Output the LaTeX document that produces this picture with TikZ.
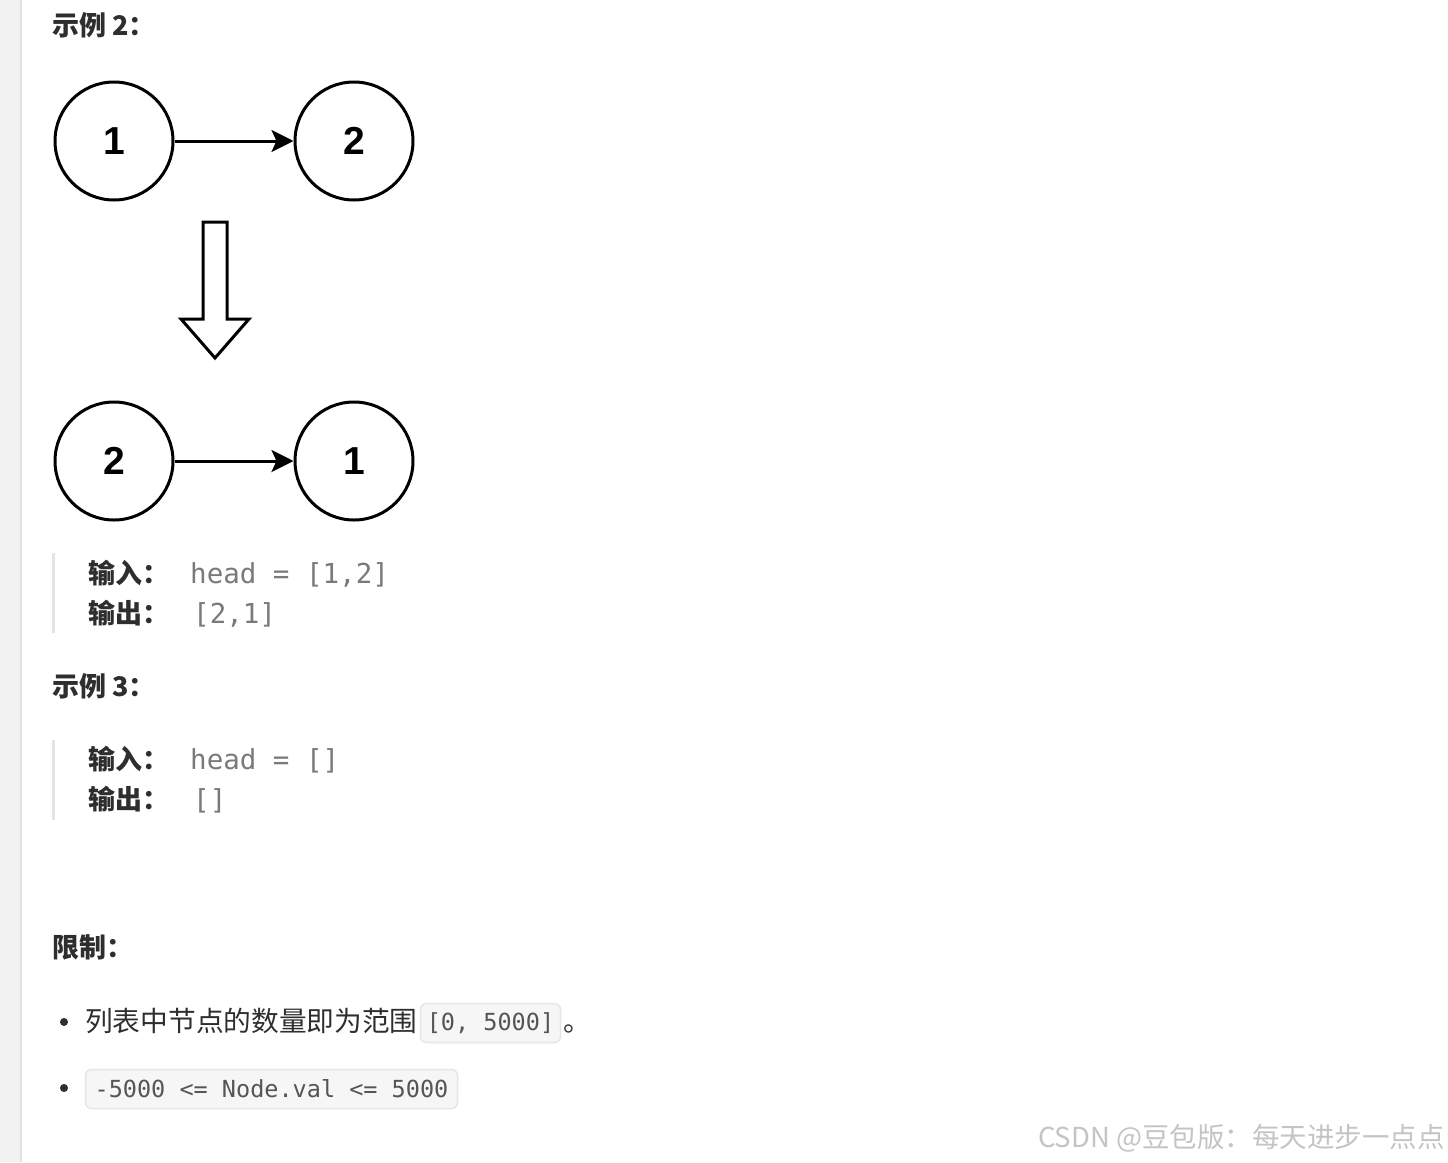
\documentclass[tikz,border=0pt]{standalone}
\usepackage{fontspec}
\usetikzlibrary{arrows.meta}
\newfontfamily\cjk{Noto Sans CJK SC}
\newfontfamily\numfont{Liberation Sans}
\newfontfamily\codefont{DejaVu Sans Mono}
\definecolor{stripgray}{HTML}{F2F2F2}
\definecolor{stripline}{HTML}{E2E2E2}
\definecolor{quotebar}{HTML}{E4E4E4}
\definecolor{labelink}{HTML}{2E2E2E}
\definecolor{monoink}{HTML}{7A7A7A}
\definecolor{codeink}{HTML}{555555}
\definecolor{codefill}{HTML}{F6F6F6}
\definecolor{codeline}{HTML}{E6E6E6}
\definecolor{markink}{HTML}{C4C4C4}

\begin{document}
\begin{tikzpicture}[x=1pt,y=-1pt,
  ball/.style={draw,circle,line width=3pt,minimum size=118pt,inner sep=0pt,
    font=\numfont\bfseries\fontsize{39}{40}\selectfont},
  link/.style={line width=3pt,-{Stealth[length=22pt,width=22pt,inset=5pt]}},
  heading/.style={anchor=base west,inner sep=0pt,text=labelink,
    font=\cjk\bfseries\fontsize{27}{32}\selectfont},
  label/.style={heading},
  mono/.style={anchor=base west,inner sep=0pt,text=monoink,
    font=\codefont\fontsize{27.5}{32}\selectfont},
  body/.style={anchor=base west,inner sep=0pt,text=labelink,
    font=\cjk\fontsize{27.7}{32}\selectfont},
  code/.style={fill=codefill,draw=codeline,line width=1.5pt,rounded corners=6pt,
    inner sep=0pt,minimum height=39pt,text=codeink,
    font=\codefont\fontsize{23.5}{28}\selectfont}]
\useasboundingbox (0,0) rectangle (1448,1162);
\fill[white] (0,0) rectangle (1448,1162);
% left margin strip
\fill[stripgray] (0,0) rectangle (20,1162);
\fill[stripline] (20,0) rectangle (22,1162);

% example 2
\node[heading] (ex2) at (52,35) {示例 2：};
\node[ball] (a1) at (114,141) {1};
\node[ball] (a2) at (354,141) {2};
\draw[link] (a1) -- (a2);
% hollow arrow
\draw[line width=3pt,line join=miter,fill=white] (203,222) -- (227,222) -- (227,319)
  -- (249,319) -- (215,358) -- (181,319) -- (203,319) -- cycle;
\node[ball] (b2) at (114,461) {2};
\node[ball] (b1) at (354,461) {1};
\draw[link] (b2) -- (b1);

\fill[quotebar] (52,553) rectangle (55,633);
\node[label] (in2) at (88,583) {输入：};
\node[mono] (in2v) at (190,583) {head = [1,2]};
\node[label] (out2) at (88,623) {输出：};
\node[mono] (out2v) at (193,623) {[2,1]};

% example 3
\node[heading] (ex3) at (52,696) {示例 3：};
\fill[quotebar] (52,740) rectangle (55,820);
\node[label] (in3) at (88,769) {输入：};
\node[mono] (in3v) at (190,769) {head = []};
\node[label] (out3) at (88,809) {输出：};
\node[mono] (out3v) at (193,809) {[]};

% constraints
\node[heading] (lim) at (52,957) {限制：};
\fill[labelink] (64,1022) circle (4);
\node[body] (c1) at (85,1031) {列表中节点的数量即为范围};
\node[code,minimum width=140pt] (r1) at (490.5,1023) {[0, 5000]};
\node[body] (dot) at (r1.east |- c1.base) [xshift=2pt] {。};
\fill[labelink] (64,1088) circle (4);
\node[code,minimum width=372pt] (r2) at (271.5,1089) {-5000 <= Node.val <= 5000};

% watermark
\node[anchor=base east,inner sep=0pt,text=markink,
  font=\cjk\fontsize{27.5}{32}\selectfont] (mark) at (1445,1147) {CSDN @豆包版：每天进步一点点};
\end{tikzpicture}
\end{document}
